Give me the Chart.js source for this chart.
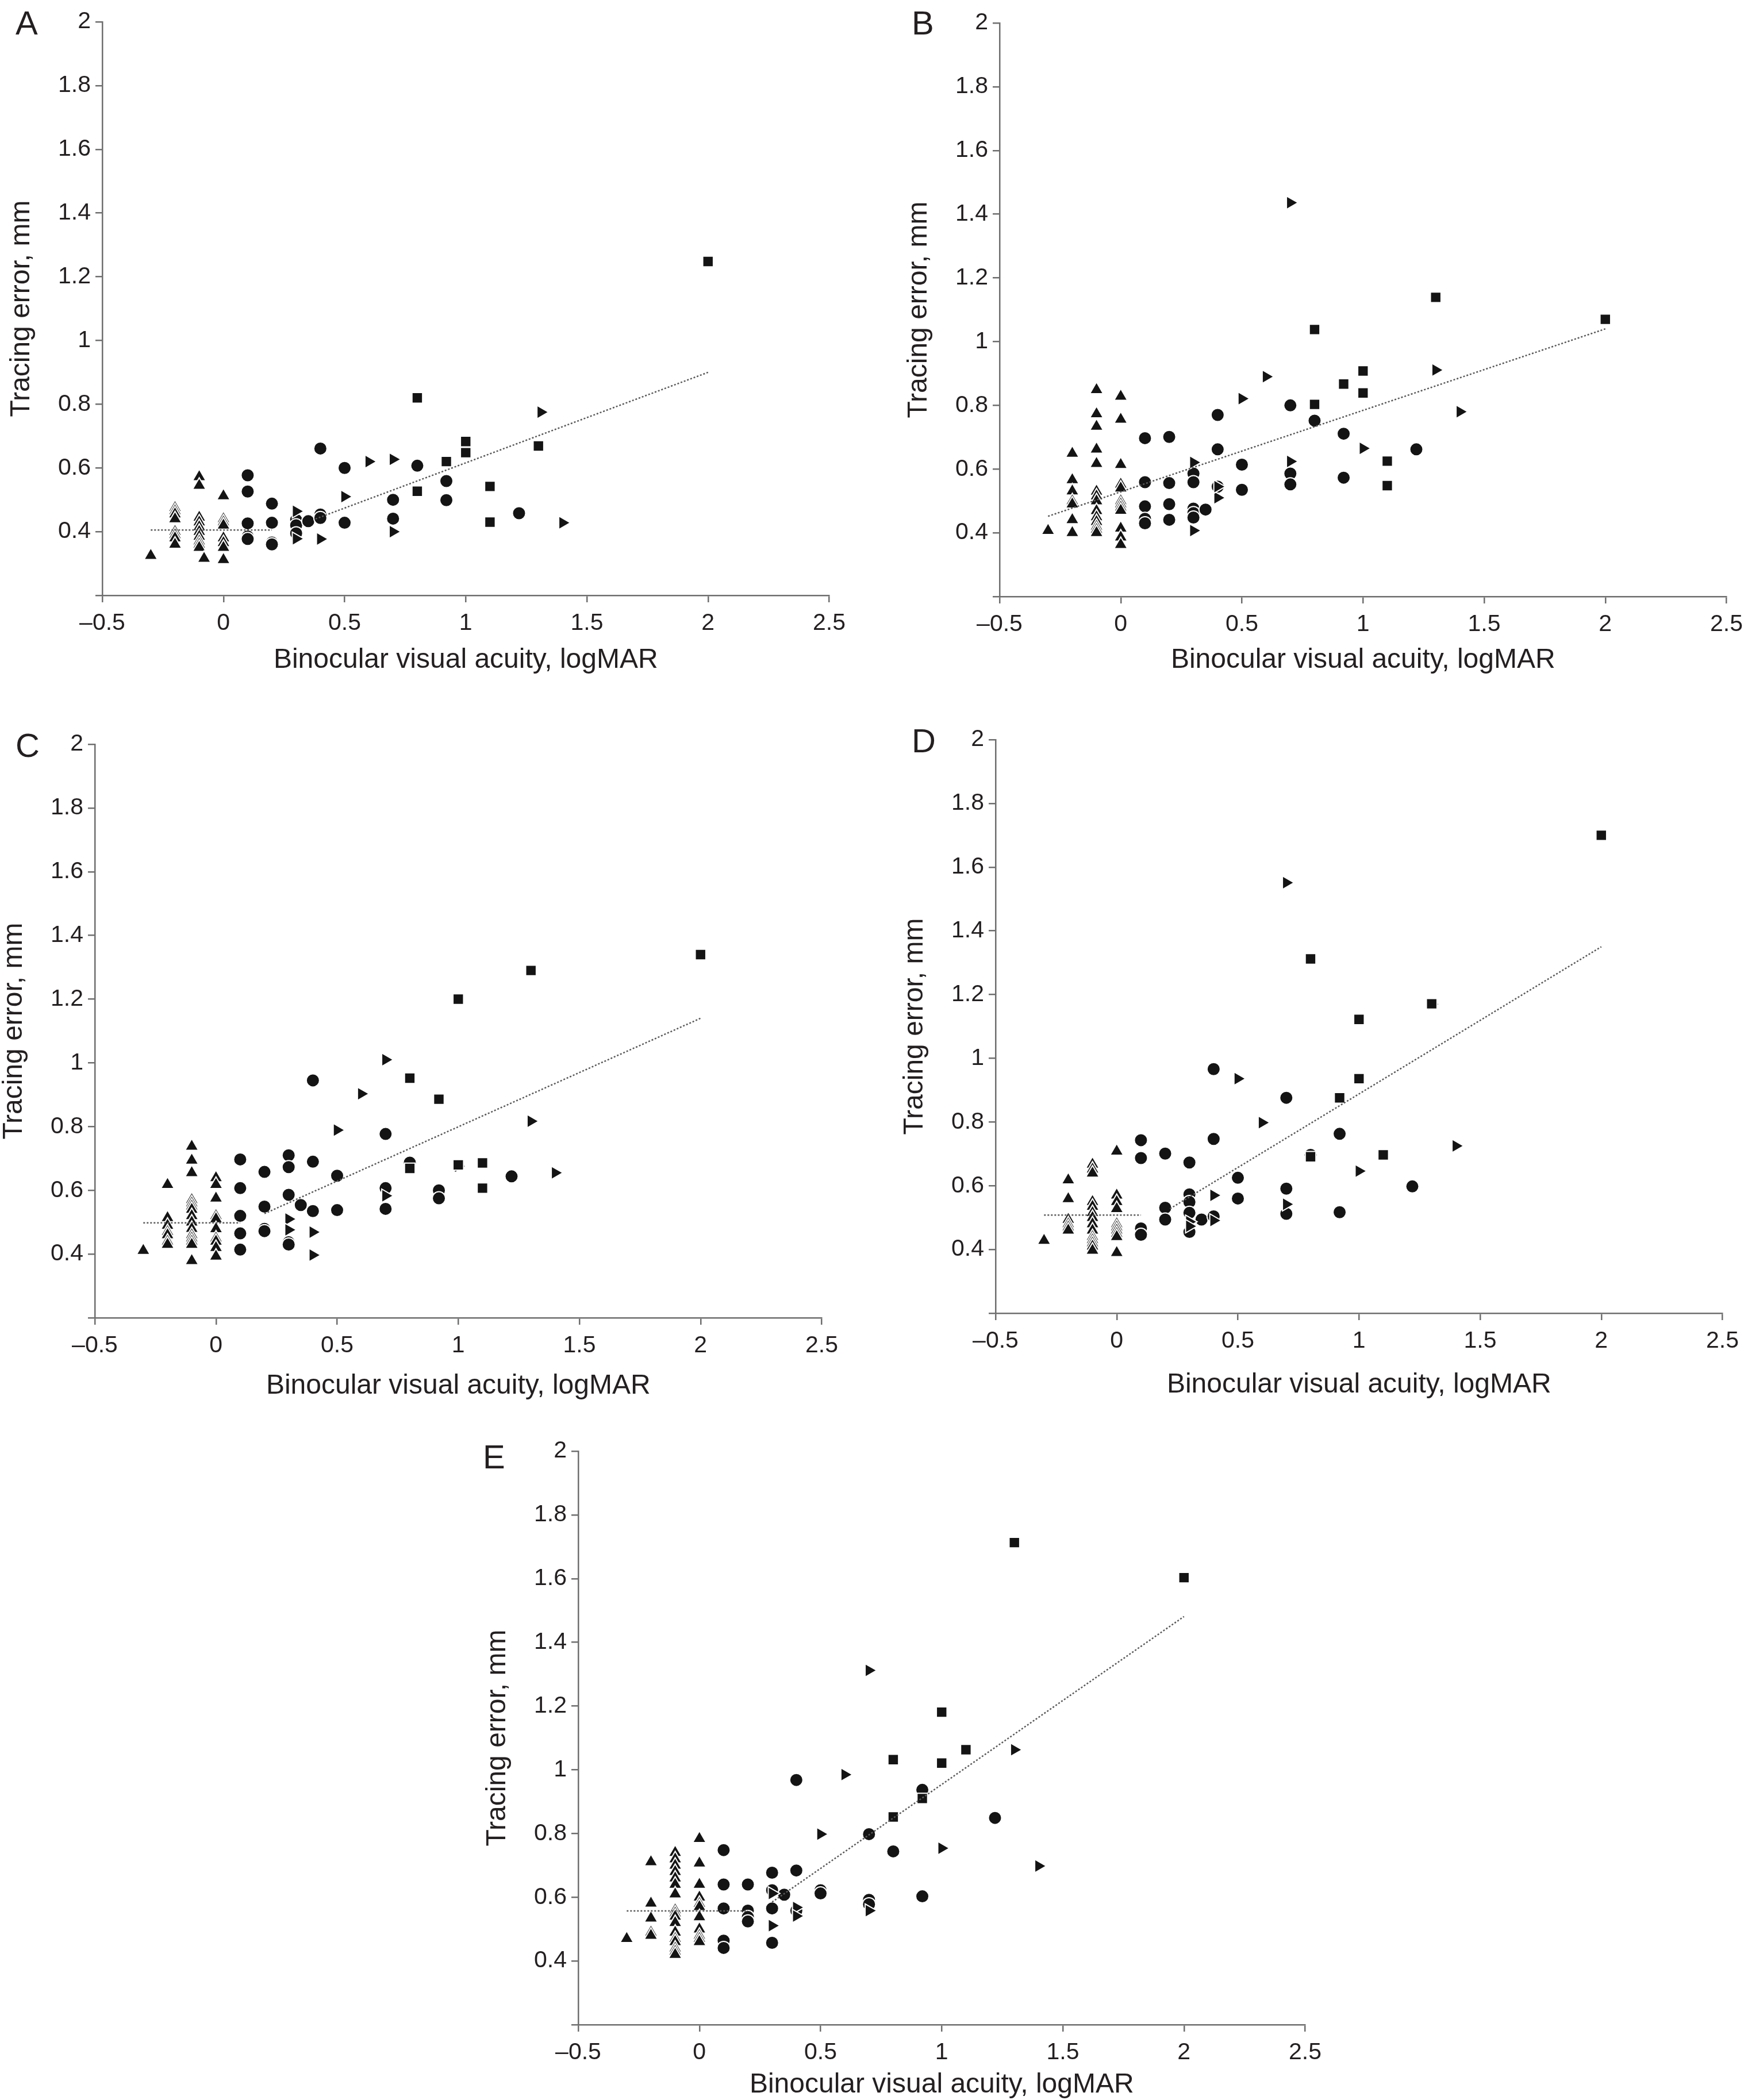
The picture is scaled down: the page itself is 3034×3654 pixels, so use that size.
<!DOCTYPE html>
<html>
<head>
<meta charset="utf-8">
<script src="https://cdn.jsdelivr.net/npm/chart.js@4.4.1/dist/chart.umd.min.js"></script>
<style>
  html, body { margin: 0; padding: 0; background: #fff; }
  body { position: relative; width: 3034px; height: 3654px; overflow: hidden; font-family: 'Liberation Sans', Arial, sans-serif; }
  canvas.panel { position: absolute; }
  .tag { position: absolute; font-size: 58px; line-height: 58px; color: #231f20; }
</style>
</head>
<body>
<div class="tag" style="left:27px;top:11px">A</div>
<div class="tag" style="left:1586px;top:11px">B</div>
<div class="tag" style="left:27px;top:1268px">C</div>
<div class="tag" style="left:1586px;top:1260px">D</div>
<div class="tag" style="left:840px;top:2506px">E</div>

<canvas id="chartA" class="panel" width="1470" height="1198" style="left:13px;top:-2px"></canvas>
<canvas id="chartB" class="panel" width="1470" height="1198" style="left:1574px;top:0px"></canvas>
<canvas id="chartC" class="panel" width="1470" height="1198" style="left:0px;top:1255px"></canvas>
<canvas id="chartD" class="panel" width="1470" height="1198" style="left:1567px;top:1247px"></canvas>
<canvas id="chartE" class="panel" width="1470" height="1198" style="left:841px;top:2485px"></canvas>

<script>
// axes
const xTickValues = [-0.5, 0, 0.5, 1, 1.5, 2, 2.5];
const xTickLabels = ['\u20130.5', '0', '0.5', '1', '1.5', '2', '2.5'];
const yTickValues = [0.2, 0.4, 0.6, 0.8, 1, 1.2, 1.4, 1.6, 1.8, 2];
const yTickLabels = ['', '0.4', '0.6', '0.8', '1', '1.2', '1.4', '1.6', '1.8', '2'];
const xTitle = 'Binocular visual acuity, logMAR';
const yTitle = 'Tracing error, mm';

// Panel A  [logMAR, mm]
const aTriangles = [[-0.3,0.325],[-0.2,0.475],[-0.2,0.465],[-0.2,0.455],[-0.2,0.44],[-0.2,0.4],[-0.2,0.39],[-0.2,0.38],[-0.2,0.36],
  [-0.1,0.572],[-0.1,0.545],[-0.1,0.445],[-0.1,0.43],[-0.1,0.415],[-0.1,0.4],[-0.1,0.385],[-0.1,0.37],[-0.1,0.36],[-0.1,0.35],
  [-0.08,0.316],[0,0.512],[0,0.44],[0,0.43],[0,0.42],[0,0.38],[0,0.365],[0,0.35],[0,0.312]];
const aCircles = [[0.1,0.577],[0.1,0.526],[0.1,0.426],[0.1,0.385],[0.1,0.377],[0.2,0.488],[0.2,0.428],[0.2,0.366],[0.2,0.36],
  [0.3,0.437],[0.3,0.42],[0.3,0.395],[0.35,0.433],[0.4,0.661],[0.4,0.454],[0.4,0.443],[0.5,0.6],[0.5,0.428],
  [0.7,0.5],[0.7,0.441],[0.8,0.607],[0.92,0.559],[0.92,0.499],[1.22,0.458]];
const aRightTriangles = [[0.3,0.464],[0.3,0.378],[0.4,0.377],[0.5,0.51],[0.6,0.62],[0.7,0.627],[0.7,0.4],[1.31,0.775],[1.4,0.428]];
const aSquares = [[0.8,0.82],[0.8,0.527],[0.92,0.62],[1,0.683],[1,0.648],[1.1,0.542],[1.1,0.43],[1.3,0.669],[2,1.248]];
const aTrendFlat = [[-0.3,0.405],[0.2,0.405]];
const aTrendSlope = [[0.38,0.44],[2,0.9]];

// Panel B
const bTriangles = [[-0.3,0.407],[-0.2,0.649],[-0.2,0.566],[-0.2,0.531],[-0.2,0.5],[-0.2,0.49],[-0.2,0.441],[-0.2,0.4],
  [-0.1,0.849],[-0.1,0.773],[-0.1,0.734],[-0.1,0.662],[-0.1,0.617],[-0.1,0.53],[-0.1,0.515],[-0.1,0.5],[-0.1,0.469],
  [-0.1,0.45],[-0.1,0.435],[-0.1,0.42],[-0.1,0.41],[-0.1,0.4],
  [0,0.828],[0,0.756],[0,0.614],[0,0.552],[0,0.54],[0,0.5],[0,0.49],[0,0.48],[0,0.47],[0,0.414],[0,0.386],[0,0.363]];
const bCircles = [[0.1,0.697],[0.1,0.559],[0.1,0.483],[0.1,0.444],[0.1,0.43],[0.2,0.701],[0.2,0.556],[0.2,0.49],[0.2,0.441],
  [0.3,0.586],[0.3,0.559],[0.3,0.476],[0.3,0.462],[0.3,0.448],[0.35,0.473],[0.4,0.77],[0.4,0.662],[0.4,0.545],
  [0.5,0.614],[0.5,0.535],[0.7,0.8],[0.7,0.586],[0.7,0.552],[0.8,0.752],[0.92,0.711],[0.92,0.573],[1.22,0.662]];
const bRightTriangles = [[0.3,0.621],[0.3,0.407],[0.4,0.51],[0.4,0.545],[0.5,0.821],[0.6,0.89],[0.7,1.436],[0.7,0.624],[1,0.665],[1.3,0.911],[1.4,0.78]];
const bSquares = [[0.8,1.038],[0.8,0.803],[0.92,0.867],[1,0.908],[1,0.839],[1.1,0.625],[1.1,0.548],[1.3,1.139],[2,1.07]];
const bTrend = [[-0.3,0.452],[2,1.04]];

// Panel C
const cTriangles = [[-0.3,0.411],[-0.2,0.618],[-0.2,0.514],[-0.2,0.49],[-0.2,0.47],[-0.2,0.46],[-0.2,0.44],[-0.2,0.43],
  [-0.1,0.738],[-0.1,0.694],[-0.1,0.655],[-0.1,0.57],[-0.1,0.56],[-0.1,0.55],[-0.1,0.54],[-0.1,0.52],[-0.1,0.5],
  [-0.1,0.48],[-0.1,0.46],[-0.1,0.45],[-0.1,0.44],[-0.1,0.43],[-0.1,0.379],
  [0,0.639],[0,0.618],[0,0.575],[0,0.52],[0,0.51],[0,0.479],[0,0.45],[0,0.44],[0,0.42],[0,0.393]];
const cCircles = [[0.1,0.697],[0.1,0.607],[0.1,0.52],[0.1,0.465],[0.1,0.414],[0.2,0.658],[0.2,0.549],[0.2,0.479],[0.2,0.472],
  [0.3,0.71],[0.3,0.673],[0.3,0.586],[0.3,0.437],[0.3,0.43],[0.35,0.554],[0.4,0.945],[0.4,0.69],[0.4,0.535],
  [0.5,0.646],[0.5,0.538],[0.7,0.777],[0.7,0.607],[0.7,0.542],[0.8,0.687],[0.92,0.6],[0.92,0.575],[1.22,0.644]];
const cRightTriangles = [[0.3,0.51],[0.3,0.476],[0.4,0.469],[0.4,0.397],[0.5,0.789],[0.6,0.903],[0.7,1.01],[0.7,0.583],[1,0.676],[1.3,0.817],[1.4,0.655]];
const cSquares = [[0.8,0.952],[0.8,0.669],[0.92,0.886],[1,1.2],[1,0.68],[1.1,0.686],[1.1,0.607],[1.3,1.29],[2,1.34]];
const cTrendFlat = [[-0.3,0.498],[0.1,0.498]];
const cTrendSlope = [[0.2,0.527],[2,1.14]];

// Panel D
const dTriangles = [[-0.3,0.428],[-0.2,0.618],[-0.2,0.559],[-0.2,0.494],[-0.2,0.48],[-0.2,0.47],[-0.2,0.46],
  [-0.1,0.667],[-0.1,0.652],[-0.1,0.639],[-0.1,0.55],[-0.1,0.535],[-0.1,0.515],[-0.1,0.5],[-0.1,0.48],[-0.1,0.46],
  [-0.1,0.44],[-0.1,0.43],[-0.1,0.42],[-0.1,0.41],[-0.1,0.397],
  [0,0.708],[0,0.57],[0,0.55],[0,0.528],[0,0.48],[0,0.47],[0,0.46],[0,0.45],[0,0.44],[0,0.39]];
const dCircles = [[0.1,0.743],[0.1,0.687],[0.1,0.466],[0.1,0.446],[0.2,0.701],[0.2,0.531],[0.2,0.494],
  [0.3,0.673],[0.3,0.573],[0.3,0.549],[0.3,0.515],[0.3,0.455],[0.35,0.494],[0.4,0.966],[0.4,0.747],[0.4,0.504],
  [0.5,0.625],[0.5,0.56],[0.7,0.876],[0.7,0.591],[0.7,0.512],[0.8,0.697],[0.92,0.763],[0.92,0.517],[1.22,0.598]];
const dRightTriangles = [[0.3,0.487],[0.3,0.473],[0.4,0.57],[0.4,0.491],[0.5,0.936],[0.6,0.798],[0.7,1.551],[0.7,0.542],[1,0.646],[1.3,1.17],[1.4,0.725]];
const dSquares = [[0.8,1.312],[0.8,0.691],[0.92,0.876],[1,1.122],[1,0.936],[1.1,0.697],[1.3,1.171],[2,1.7]];
const dTrendFlat = [[-0.3,0.508],[0.1,0.508]];
const dTrendSlope = [[0.22,0.528],[2,1.35]];

// Panel E
const eTriangles = [[-0.3,0.47],[-0.2,0.711],[-0.2,0.581],[-0.2,0.534],[-0.2,0.49],[-0.2,0.48],
  [-0.1,0.74],[-0.1,0.72],[-0.1,0.7],[-0.1,0.68],[-0.1,0.66],[-0.1,0.64],[-0.1,0.61],[-0.1,0.56],[-0.1,0.55],
  [-0.1,0.54],[-0.1,0.52],[-0.1,0.49],[-0.1,0.47],[-0.1,0.46],[-0.1,0.44],[-0.1,0.43],[-0.1,0.42],
  [0,0.784],[0,0.707],[0,0.64],[0,0.6],[0,0.58],[0,0.57],[0,0.538],[0,0.5],[0,0.48],[0,0.47],[0,0.46]];
const eCircles = [[0.1,0.748],[0.1,0.64],[0.1,0.565],[0.1,0.464],[0.1,0.441],[0.2,0.64],[0.2,0.558],[0.2,0.538],[0.2,0.524],
  [0.3,0.677],[0.3,0.622],[0.3,0.565],[0.3,0.457],[0.35,0.608],[0.4,0.968],[0.4,0.684],[0.4,0.558],
  [0.5,0.622],[0.5,0.612],[0.7,0.798],[0.7,0.592],[0.7,0.578],[0.8,0.744],[0.92,0.937],[0.92,0.603],[1.22,0.849]];
const eRightTriangles = [[0.3,0.612],[0.3,0.511],[0.4,0.568],[0.4,0.541],[0.5,0.798],[0.6,0.985],[0.7,1.312],[0.7,0.558],[1,0.754],[1.3,1.063],[1.4,0.698]];
const eSquares = [[0.8,1.032],[0.8,0.852],[0.92,0.91],[1,1.181],[1,1.021],[1.1,1.063],[1.3,1.713],[2,1.603]];
const eTrendFlat = [[-0.3,0.557],[0.2,0.557]];
const eTrendSlope = [[0.3,0.585],[2,1.481]];

Chart.defaults.font.family = "'Liberation Sans', Arial, sans-serif";

const INK = '#231f20';
const AXIS = '#6e6e6e';

function toPts(arr) {
  return arr.map(p => ({ x: p[0], y: p[1] }));
}

function markers(arr, style, radius, rotation) {
  return {
    data: toPts(arr),
    showLine: false,
    pointStyle: style,
    pointRadius: radius,
    pointRotation: rotation || 0,
    pointBackgroundColor: '#141414',
    pointBorderColor: '#ffffff',
    pointBorderWidth: 2
  };
}

function trend(arr) {
  return {
    data: toPts(arr),
    showLine: true,
    pointRadius: 0,
    borderColor: '#5a5a5a',
    borderWidth: 2.5,
    borderDash: [3, 3],
    fill: false
  };
}

function drawPanel(id, lines, tri, circ, rtri, sq, titlePad) {
  // first datasets are painted last, so trend lines go first
  const sets = lines.map(trend).concat([
    markers(sq, 'rect', 13),
    markers(rtri, 'triangle', 13.5, 90),
    markers(circ, 'circle', 11.5),
    markers(tri, 'triangle', 13.5)
  ]);

  const gridOpts = { display: true, drawOnChartArea: false, drawTicks: true, tickLength: 12, color: AXIS, lineWidth: 2.5 };
  const borderOpts = { display: true, color: AXIS, width: 2.5 };

  new Chart(document.getElementById(id), {
    type: 'scatter',
    data: { datasets: sets },
    options: {
      responsive: false,
      animation: false,
      devicePixelRatio: 1,
      events: [],
      layout: { padding: { top: 40, right: 40, left: 0, bottom: 0 } },
      plugins: { legend: { display: false }, tooltip: { enabled: false } },
      scales: {
        x: {
          type: 'linear',
          min: -0.5,
          max: 2.5,
          afterBuildTicks: s => { s.ticks = xTickValues.map(v => ({ value: v })); },
          afterFit: s => { s.height = 160; },
          ticks: {
            autoSkip: false,
            maxRotation: 0,
            padding: 12,
            color: INK,
            font: { size: 41 },
            callback: (v, i) => xTickLabels[i]
          },
          grid: gridOpts,
          border: borderOpts,
          title: {
            display: true,
            text: xTitle,
            color: INK,
            font: { size: 48, lineHeight: 1.2 },
            padding: { top: 0, bottom: titlePad }
          }
        },
        y: {
          type: 'linear',
          min: 0.2,
          max: 2,
          afterBuildTicks: s => { s.ticks = yTickValues.map(v => ({ value: v })); },
          afterFit: s => { s.width = 165; },
          ticks: {
            autoSkip: false,
            padding: 8,
            color: INK,
            font: { size: 41 },
            callback: (v, i) => yTickLabels[i]
          },
          grid: gridOpts,
          border: borderOpts,
          title: {
            display: true,
            text: yTitle,
            color: INK,
            font: { size: 48, lineHeight: 1 },
            padding: { top: 1, bottom: 0 }
          }
        }
      }
    }
  });
}

drawPanel('chartA', [aTrendFlat, aTrendSlope], aTriangles, aCircles, aRightTriangles, aSquares, 18);
drawPanel('chartB', [bTrend], bTriangles, bCircles, bRightTriangles, bSquares, 20);
drawPanel('chartC', [cTrendFlat, cTrendSlope], cTriangles, cCircles, cRightTriangles, cSquares, 12);
drawPanel('chartD', [dTrendFlat, dTrendSlope], dTriangles, dCircles, dRightTriangles, dSquares, 6);
drawPanel('chartE', [eTrendFlat, eTrendSlope], eTriangles, eCircles, eRightTriangles, eSquares, 26);
</script>
</body>
</html>
